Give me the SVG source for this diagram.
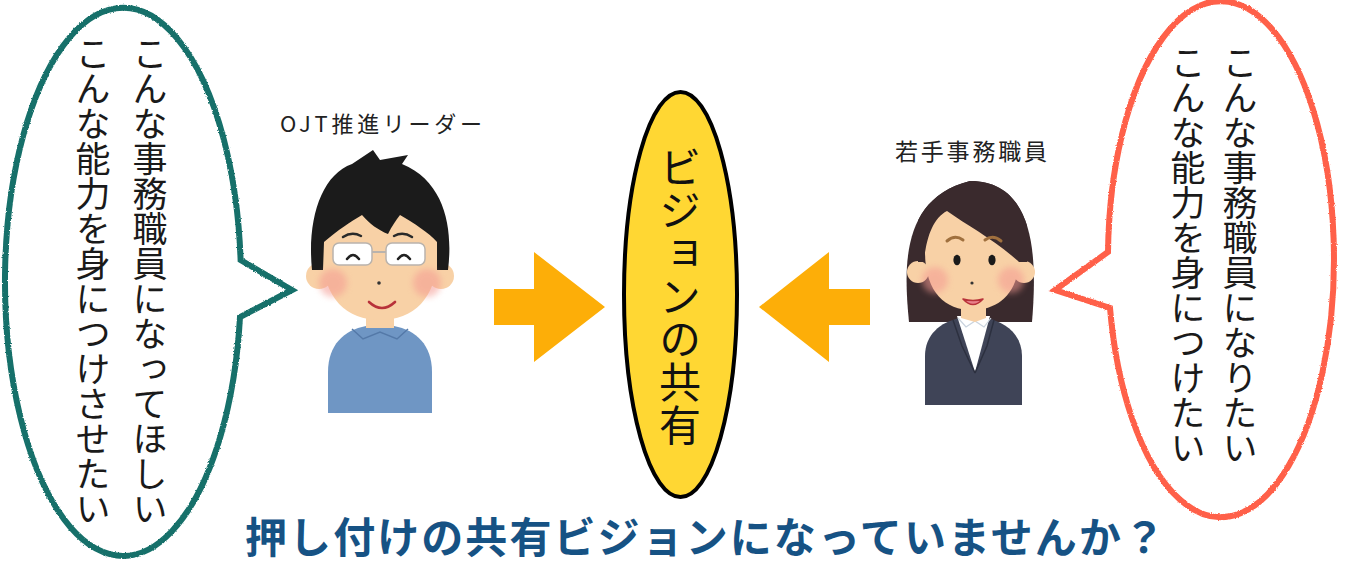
<svg xmlns="http://www.w3.org/2000/svg" width="1345" height="563" viewBox="0 0 1345 563">
  <style>
    .jp { font-family: "Noto Sans CJK JP", "Noto Sans CJK SC", sans-serif; }
    .vert { writing-mode: vertical-rl; font-size: 35px; fill: #1a1a1a; }
    .label { font-size: 22px; fill: #222; }
    .bubble { fill: #fff; stroke-width: 6; stroke-linejoin: miter; filter: url(#crayon); }
    .arrow { fill: #FDAE08; }
    .skin { fill: #F8D1A6; }
    .blush { fill: #F49A92; opacity: 0.55; }
    .ink { fill: none; stroke-linecap: round; }
  </style>
  <defs>
    <filter id="crayon" x="-5%" y="-5%" width="110%" height="110%">
      <feTurbulence type="fractalNoise" baseFrequency="1.6" numOctaves="2" seed="3"/>
      <feDisplacementMap in="SourceGraphic" scale="2.5" xChannelSelector="R" yChannelSelector="G"/>
    </filter>
    <filter id="soft" x="-20%" y="-20%" width="140%" height="140%">
      <feGaussianBlur stdDeviation="3"/>
    </filter>
    <clipPath id="womanHair">
      <path d="M 909 322 C 903 262 903 198 970 181 C 1037 181 1037 262 1032 322 Z"/>
    </clipPath>
  </defs>

  <rect width="1345" height="563" fill="#fff"/>

  <!-- leader's speech bubble -->
  <g id="bubble-leader">
    <path class="bubble" stroke="#17706A" d="M 240.6 260 A 118 274 0 1 0 240 317 L 292 290 Z"/>
    <text class="jp vert" x="150" y="36">こんな事務職員になってほしい</text>
    <text class="jp vert" x="93" y="36">こんな能力を身につけさせたい</text>
  </g>

  <!-- young staff's speech bubble -->
  <g id="bubble-staff">
    <path class="bubble" stroke="#FF6048" d="M 1108 252 A 113 258 0 1 1 1110 308 L 1055 290 Z"/>
    <text class="jp vert" x="1240" y="45">こんな事務職員になりたい</text>
    <text class="jp vert" x="1188" y="45">こんな能力を身につけたい</text>
  </g>

  <!-- OJT leader -->
  <g id="leader">
    <text class="jp label" x="280" y="132" textLength="202" lengthAdjust="spacing">OJT推進リーダー</text>
    <!-- body -->
    <path fill="#6F96C4" d="M 328 413 L 328 372 C 328 345 344 330 366 326 L 394 326 C 416 330 432 345 432 372 L 432 413 Z"/>
    <path class="skin" d="M 366 305 L 394 305 L 394 328 L 366 328 Z"/>
    <path fill="none" stroke="#5479A8" stroke-width="1.5" d="M 352 329 L 363 339 L 380 332 L 397 339 L 408 329"/>
    <!-- ears -->
    <circle class="skin" cx="319" cy="276" r="13"/>
    <circle class="skin" cx="441" cy="276" r="13"/>
    <!-- face -->
    <path class="skin" d="M 322 250 C 322 215 340 205 380 205 C 420 205 438 215 438 250 C 438 298 414 320 380 320 C 346 320 322 298 322 250 Z"/>
    <!-- hair -->
    <path fill="#1B1B1B" d="M 312 270 L 323 270 L 324 242 C 338 230 350 222 362 215 C 370 224 378 230 388 234 C 392 226 396 220 400 215 C 415 224 428 232 437 242 L 437 270 L 448 270 C 453 230 446 182 402 164 L 408 155 L 380 160 L 373 150 L 352 164 C 321 175 307 220 312 270 Z"/>
    <!-- cheeks -->
    <circle class="blush" cx="333" cy="283" r="14" filter="url(#soft)"/>
    <circle class="blush" cx="427" cy="283" r="14" filter="url(#soft)"/>
    <!-- brows -->
    <path class="ink" stroke="#2a2a2a" stroke-width="2.5" d="M 343 237 Q 352 231 361 236 M 394 236 Q 403 231 412 237"/>
    <!-- glasses -->
    <rect x="333" y="243" width="39" height="22" rx="6" fill="#fff" stroke="#b9b3ad" stroke-width="1.5"/>
    <rect x="386" y="243" width="39" height="22" rx="6" fill="#fff" stroke="#b9b3ad" stroke-width="1.5"/>
    <path stroke="#b9b3ad" stroke-width="2" d="M 372 252 L 386 252"/>
    <!-- closed eyes -->
    <path class="ink" stroke="#222" stroke-width="2.5" d="M 347 259 Q 353 251 359 259 M 398 259 Q 404 251 410 259"/>
    <circle cx="379" cy="283" r="1.8" fill="#333"/>
    <path class="ink" stroke="#B8323A" stroke-width="2.6" d="M 369 302 Q 382 314 395 302"/>
  </g>

  <!-- connectors -->
  <g id="connectors">
    <polygon class="arrow" points="494,289 534,289 534,252 605,307 534,362 534,325 494,325"/>
    <polygon class="arrow" points="870,289 829,289 829,252 759,307 829,362 829,325 870,325"/>
  </g>

  <!-- shared vision -->
  <g id="vision">
    <ellipse cx="680.5" cy="294.5" rx="56.5" ry="202.5" fill="#FFD733" stroke="#000" stroke-width="4"/>
    <text class="jp" x="680" y="146" style="writing-mode: vertical-rl; font-size: 42px; letter-spacing: 1px;" fill="#111">ビジョンの共有</text>
  </g>

  <!-- young office staff -->
  <g id="staff">
    <text class="jp label" x="895" y="160" style="font-size: 23px;" textLength="152" lengthAdjust="spacing">若手事務職員</text>
    <!-- hair back -->
    <path fill="#3A2A2D" d="M 909 322 C 903 262 903 198 970 181 C 1037 181 1037 262 1032 322 Z"/>
    <!-- body -->
    <path fill="#3F4457" d="M 925 405 L 925 356 C 925 335 940 322 960 318 L 986 318 C 1006 322 1022 335 1022 356 L 1022 405 Z"/>
    <path fill="#fff" d="M 957 316 L 990 316 L 975 372 Z"/>
    <path fill="none" stroke="#c9d3de" stroke-width="1.2" d="M 958 318 L 966 327 L 975 321 L 984 327 L 991 318"/>
    <path fill="none" stroke="#2C303F" stroke-width="1.5" d="M 953 320 L 962 346 L 975 373 M 994 320 L 987 346 L 975 373"/>
    <path class="skin" d="M 961 300 L 986 300 L 986 318 L 975 322 L 961 318 Z"/>
    <!-- ears -->
    <circle class="skin" cx="918" cy="272" r="11"/>
    <circle class="skin" cx="1024" cy="272" r="11"/>
    <!-- face -->
    <path class="skin" d="M 925 252 C 925 216 945 205 972 205 C 1000 205 1020 216 1020 252 C 1020 292 1000 310 972 310 C 945 310 925 292 925 252 Z"/>
    <!-- side-swept fringe, kept inside the hair outline -->
    <path fill="#3A2A2D" clip-path="url(#womanHair)" d="M 918 262 L 924 262 C 926 238 933 218 947 211 C 968 226 995 240 1019 262 L 1027 262 L 1027 175 L 918 175 Z"/>
    <circle class="blush" cx="935" cy="280" r="13" filter="url(#soft)"/>
    <circle class="blush" cx="1011" cy="280" r="13" filter="url(#soft)"/>
    <path class="ink" stroke="#A0703E" stroke-width="3" d="M 947 241 Q 955 234 963 240 M 985 240 Q 993 234 1001 241"/>
    <ellipse cx="957" cy="260" rx="3.6" ry="5.2" fill="#1a1a1a"/>
    <ellipse cx="992" cy="260" rx="3.6" ry="5.2" fill="#1a1a1a"/>
    <circle cx="972" cy="283" r="1.6" fill="#333"/>
    <path fill="#E9808A" stroke="#B8323A" stroke-width="1.6" stroke-linejoin="round" d="M 963 299 Q 973 310 983 299 Q 973 302 963 299 Z"/>
  </g>

  <!-- question -->
  <text class="jp" x="245" y="553" style="font-size: 42px; font-weight: 700;" fill="#165284" textLength="920" lengthAdjust="spacing">押し付けの共有ビジョンになっていませんか？</text>
</svg>
